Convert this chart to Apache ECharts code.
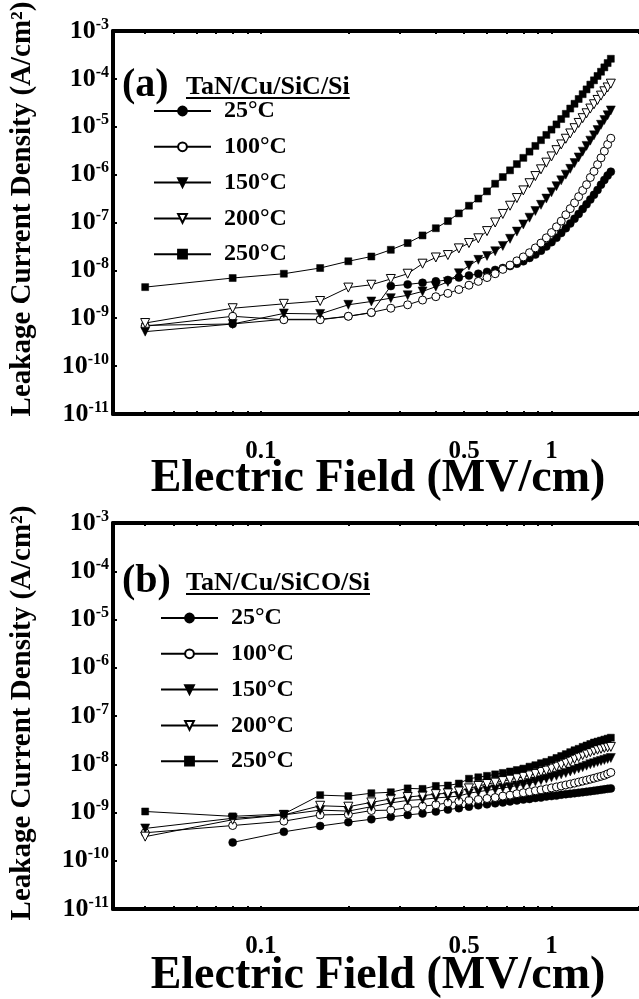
<!DOCTYPE html>
<html><head><meta charset="utf-8">
<script src="https://cdn.jsdelivr.net/npm/echarts@6/dist/echarts.min.js"></script>
<style>html,body{margin:0;padding:0;background:#fff}#c{width:639px;height:999px}</style>
</head><body><div id="c"></div>
<script>
// Electric field (MV/cm)
const fieldMVcm = [0.04,0.08,0.12,0.16,0.20,0.24,0.28,0.32,0.36,0.40,0.44,0.48,0.52,0.56,0.60,0.64,0.68,0.72,0.76,0.80,
  0.84,0.88,0.92,0.96,1.00,1.04,1.08,1.12,1.16,1.20,1.24,1.28,1.32,1.36,1.40,1.44,1.48,1.52,1.56,1.60];
const temps = ['25°C','100°C','150°C','200°C','250°C'];

// (a) TaN/Cu/SiC/Si  leakage current density (A/cm2)
const a25 = [7.1e-10,7.6e-10,9.5e-10,9.5e-10,1.1e-9,1.3e-9,4.7e-9,5.1e-9,5.5e-9,5.9e-9,6.3e-9,7.1e-9,7.8e-9,8.5e-9,9.3e-9,1.02e-8,1.12e-8,1.23e-8,1.38e-8,1.55e-8,
  1.82e-8,2.14e-8,2.57e-8,3.16e-8,3.89e-8,4.79e-8,6.03e-8,7.59e-8,9.55e-8,1.2e-7,1.51e-7,1.91e-7,2.4e-7,3.02e-7,3.8e-7,4.79e-7,6.17e-7,7.76e-7,9.55e-7,1.15e-6];
const a100 = [6.8e-10,1.1e-9,9.3e-10,9.3e-10,1.1e-9,1.32e-9,1.62e-9,1.91e-9,2.4e-9,2.82e-9,3.31e-9,3.98e-9,4.9e-9,5.89e-9,7.08e-9,8.51e-9,1.05e-8,1.29e-8,1.58e-8,1.91e-8,
  2.34e-8,2.95e-8,3.72e-8,4.79e-8,6.17e-8,8.13e-8,1.07e-7,1.45e-7,1.95e-7,2.57e-7,3.47e-7,4.68e-7,6.17e-7,8.71e-7,1.17e-6,1.62e-6,2.24e-6,3.09e-6,4.27e-6,5.75e-6];
const a150 = [5.25e-10,7.59e-10,1.26e-9,1.23e-9,1.91e-9,2.24e-9,2.63e-9,3.02e-9,3.63e-9,4.57e-9,5.75e-9,8.71e-9,1.26e-8,1.66e-8,2.0e-8,2.51e-8,3.24e-8,4.57e-8,6.46e-8,9.12e-8,
  1.26e-7,1.74e-7,2.34e-7,3.16e-7,4.27e-7,5.75e-7,7.59e-7,1.0e-6,1.32e-6,1.74e-6,2.29e-6,3.02e-6,3.98e-6,5.13e-6,6.61e-6,8.51e-6,1.1e-5,1.38e-5,1.74e-5,2.19e-5];
const a200 = [7.94e-10,1.62e-9,2.0e-9,2.29e-9,4.37e-9,5.01e-9,6.61e-9,8.51e-9,1.38e-8,1.86e-8,2.09e-8,2.88e-8,3.72e-8,4.68e-8,6.61e-8,1.0e-7,1.51e-7,2.24e-7,3.24e-7,4.68e-7,
  6.61e-7,9.33e-7,1.29e-6,1.78e-6,2.4e-6,3.24e-6,4.27e-6,5.62e-6,7.24e-6,9.33e-6,1.2e-5,1.51e-5,1.91e-5,2.4e-5,2.95e-5,3.63e-5,4.47e-5,5.5e-5,6.61e-5,7.94e-5];
const a250 = [4.47e-9,6.92e-9,8.51e-9,1.12e-8,1.55e-8,1.95e-8,2.69e-8,3.72e-8,5.37e-8,7.59e-8,1.07e-7,1.55e-7,2.24e-7,3.16e-7,4.47e-7,6.46e-7,8.91e-7,1.23e-6,1.66e-6,2.24e-6,
  3.02e-6,3.98e-6,5.25e-6,6.76e-6,8.71e-6,1.12e-5,1.45e-5,1.86e-5,2.4e-5,3.02e-5,3.8e-5,4.79e-5,6.03e-5,7.59e-5,9.33e-5,1.15e-4,1.41e-4,1.74e-4,2.14e-4,2.63e-4];

// (b) TaN/Cu/SiCO/Si
const b25 = [null,2.4e-10,3.98e-10,5.25e-10,6.31e-10,7.24e-10,8.13e-10,8.91e-10,9.55e-10,1.05e-9,1.15e-9,1.23e-9,1.32e-9,1.41e-9,1.48e-9,1.55e-9,1.62e-9,1.70e-9,1.78e-9,1.86e-9,
  1.91e-9,2.0e-9,2.04e-9,2.14e-9,2.19e-9,2.24e-9,2.34e-9,2.4e-9,2.45e-9,2.51e-9,2.57e-9,2.63e-9,2.69e-9,2.75e-9,2.82e-9,2.88e-9,2.95e-9,3.02e-9,3.09e-9,3.16e-9];
const b100 = [3.8e-10,5.37e-10,6.61e-10,8.91e-10,9.12e-10,1.1e-9,1.12e-9,1.26e-9,1.35e-9,1.45e-9,1.58e-9,1.70e-9,1.78e-9,1.86e-9,1.95e-9,2.04e-9,2.19e-9,2.29e-9,2.45e-9,2.57e-9,
  2.69e-9,2.82e-9,2.95e-9,3.09e-9,3.24e-9,3.39e-9,3.55e-9,3.72e-9,3.89e-9,4.07e-9,4.27e-9,4.47e-9,4.68e-9,4.9e-9,5.13e-9,5.37e-9,5.62e-9,5.89e-9,6.31e-9,6.76e-9];
const b150 = [4.68e-10,7.59e-10,8.91e-10,1.12e-9,1.07e-9,1.32e-9,1.58e-9,1.78e-9,1.86e-9,2.0e-9,2.09e-9,2.19e-9,2.51e-9,2.69e-9,2.88e-9,3.02e-9,3.24e-9,3.39e-9,3.63e-9,3.8e-9,
  4.07e-9,4.37e-9,4.68e-9,5.01e-9,5.37e-9,5.75e-9,6.17e-9,6.61e-9,7.08e-9,7.59e-9,8.13e-9,8.71e-9,9.33e-9,1.0e-8,1.05e-8,1.12e-8,1.17e-8,1.23e-8,1.29e-8,1.35e-8];
const b200 = [3.16e-10,7.08e-10,8.91e-10,1.38e-9,1.32e-9,1.62e-9,1.91e-9,2.09e-9,2.24e-9,2.4e-9,2.51e-9,2.75e-9,3.16e-9,3.55e-9,3.89e-9,4.17e-9,4.47e-9,4.79e-9,5.13e-9,5.5e-9,
  5.89e-9,6.31e-9,6.92e-9,7.41e-9,8.13e-9,8.91e-9,9.77e-9,1.07e-8,1.17e-8,1.29e-8,1.41e-8,1.55e-8,1.66e-8,1.78e-8,1.91e-8,2.0e-8,2.09e-8,2.19e-8,2.24e-8,2.29e-8];
const b250 = [1.05e-9,8.32e-10,9.33e-10,2.29e-9,2.19e-9,2.51e-9,2.63e-9,3.16e-9,3.09e-9,3.55e-9,3.63e-9,3.98e-9,5.01e-9,5.37e-9,5.75e-9,6.17e-9,6.61e-9,7.08e-9,7.59e-9,8.13e-9,
  8.91e-9,9.55e-9,1.05e-8,1.12e-8,1.23e-8,1.35e-8,1.48e-8,1.62e-8,1.78e-8,1.95e-8,2.09e-8,2.29e-8,2.45e-8,2.63e-8,2.82e-8,2.95e-8,3.09e-8,3.24e-8,3.39e-8,3.55e-8];

const xTickLabels = [0.1, 0.5, 1];
const xMinorTicks = [0.04,0.05,0.06,0.07,0.08,0.09,0.1,0.2,0.3,0.4,0.5,0.6,0.7,0.8,0.9,1,2];
const yTickValues = [1e-3,1e-4,1e-5,1e-6,1e-7,1e-8,1e-9,1e-10,1e-11];
const panelTitles = ['TaN/Cu/SiC/Si','TaN/Cu/SiCO/Si'];
const panelTags = ['(a)','(b)'];
const yTitle = 'Leakage Current Density (A/cm²)';
const xTitle = 'Electric Field (MV/cm)';

const FF = '"Liberation Serif","Times New Roman",serif';
const symbols = [
  {symbol:'circle', rot:0, size:8, open:false},
  {symbol:'circle', rot:0, size:8, open:true},
  {symbol:'triangle', rot:180, size:9, open:false},
  {symbol:'triangle', rot:180, size:9, open:true},
  {symbol:'rect', rot:0, size:7, open:false}
];
const panels = [[a25,a100,a150,a200,a250],[b25,b100,b150,b200,b250]];

const grids = [
  {left:113, top:31, width:534, height:383},
  {left:113, top:523, width:534, height:386}
];
const axisLine = {show:true, lineStyle:{color:'#000', width:4}};

const xAxes = [], yAxes = [];
grids.forEach((g, i) => {
  xAxes.push({type:'log', gridIndex:i, min:0.031, max:2, position:'bottom',
    axisLine, splitLine:{show:false},
    axisTick:{show:true, inside:true, length:3, lineStyle:{width:2,color:'#000'}, customValues:xMinorTicks},
    axisLabel:{show:true, customValues:xTickLabels, margin:25, color:'#000',
      fontFamily:FF, fontWeight:'bold', fontSize:25, formatter:v => String(+v.toPrecision(3))}});
  xAxes.push({type:'log', gridIndex:i, min:0.031, max:2, position:'top',
    axisLine, splitLine:{show:false},
    axisTick:{show:true, inside:true, length:3, lineStyle:{width:2,color:'#000'}, customValues:xMinorTicks},
    axisLabel:{show:false}});
  yAxes.push({type:'log', gridIndex:i, min:1e-11, max:1e-3, position:'left',
    axisLine, splitLine:{show:false},
    axisTick:{show:true, inside:true, length:4, lineStyle:{width:2,color:'#000'}, customValues:yTickValues},
    axisLabel:{show:true, customValues:yTickValues, margin:4, color:'#000',
      formatter:v => '{a|10}{b|' + Math.round(Math.log10(v)) + '}',
      rich:{a:{fontFamily:FF, fontWeight:'bold', fontSize:26, color:'#000'},
            b:{fontFamily:FF, fontWeight:'bold', fontSize:16, color:'#000', padding:[0,0,13,0]}}}});
});

const series = [];
panels.forEach((arrs, p) => {
  arrs.forEach((arr, k) => {
    const s = symbols[k];
    series.push({
      type:'line', name:temps[k], xAxisIndex:p*2, yAxisIndex:p,
      data: fieldMVcm.map((x, j) => [x, arr[j]]).filter(d => d[1] != null),
      symbol:s.symbol, symbolRotate:s.rot, symbolSize:s.size, showSymbol:true,
      lineStyle:{color:'#000', width:1},
      itemStyle: s.open ? {color:'#fff', borderColor:'#000', borderWidth:1} : {color:'#000', borderColor:'#000', borderWidth:0.5},
      emphasis:{disabled:true}, animation:false, z: 2 + k
    });
  });
});

const legends = [
  {left:148, top:94},
  {left:155, top:601}
].map((pos, p) => ({
  orient:'vertical', left:pos.left, top:pos.top, itemWidth:57, itemHeight:11, itemGap:11.8,
  data: temps.map(t => t),
  textStyle:{fontFamily:FF, fontWeight:'bold', fontSize:24, color:'#000', padding:[0,0,0,8]},
  selectedMode:false
}));

const measure = (text, font) => {
  const ctx = document.createElement('canvas').getContext('2d');
  ctx.font = font;
  return ctx.measureText(text).width;
};

const graphic = [];
const titleY = [209, 713], xTitleY = [479, 976], tagY = [86, 582];
for (let p = 0; p < 2; p++) {
  graphic.push({type:'text', x:23, y:titleY[p], rotation:Math.PI/2,
    style:{text:yTitle, font:'bold 29px ' + FF, fill:'#000', align:'center', verticalAlign:'middle', textAlign:'center', textVerticalAlign:'middle'}});
  graphic.push({type:'text', x:378, y:xTitleY[p],
    style:{text:xTitle, font:'bold 46px ' + FF, fill:'#000', align:'center', verticalAlign:'middle', textAlign:'center', textVerticalAlign:'middle'}});
  graphic.push({type:'text', x:122, y:tagY[p],
    style:{text:panelTags[p], font:'bold 40px ' + FF, fill:'#000', align:'left', verticalAlign:'middle', textAlign:'left', textVerticalAlign:'middle'}});
  const tFont = 'bold 26px ' + FF;
  graphic.push({type:'text', x:186, y:tagY[p] + 1,
    style:{text:panelTitles[p], font:tFont, fill:'#000', align:'left', verticalAlign:'middle', textAlign:'left', textVerticalAlign:'middle'}});
  const w = measure(panelTitles[p], tFont);
  graphic.push({type:'line', shape:{x1:186, y1:tagY[p] + 12, x2:186 + w, y2:tagY[p] + 12},
    style:{stroke:'#000', lineWidth:2}});
}

const chart = echarts.init(document.getElementById('c'), null, {renderer:'canvas'});
chart.setOption({
  backgroundColor:'#fff', animation:false,
  grid:grids, xAxis:xAxes, yAxis:yAxes, series, legend:legends, graphic
});
</script></body></html>
